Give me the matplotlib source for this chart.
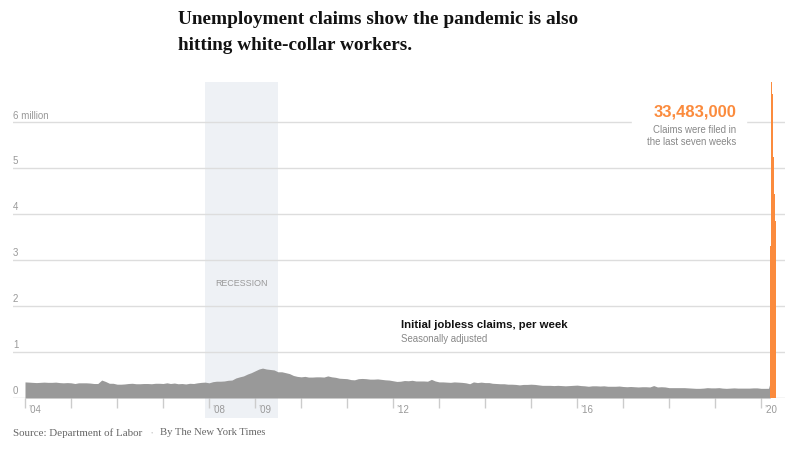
import matplotlib
matplotlib.use("Agg")
import matplotlib.pyplot as plt
import matplotlib.transforms as mtransforms
import matplotlib.patches as mpatches
import matplotlib.dates as mdates
import pandas as pd
import numpy as np

# ---------------- data (millions of initial claims) ----------------
monthly_claims = [
    # 2004
    0.350, 0.345, 0.340, 0.335, 0.340, 0.345, 0.340, 0.340, 0.345, 0.335, 0.330, 0.335,
    # 2005
    0.330, 0.315, 0.330, 0.330, 0.330, 0.325, 0.315, 0.315, 0.390, 0.360, 0.320, 0.320,
    # 2006
    0.300, 0.300, 0.305, 0.315, 0.320, 0.310, 0.310, 0.315, 0.315, 0.310, 0.320, 0.320,
    # 2007
    0.315, 0.330, 0.315, 0.325, 0.310, 0.315, 0.305, 0.320, 0.315, 0.330, 0.340, 0.345,
    # 2008
    0.330, 0.355, 0.365, 0.365, 0.370, 0.385, 0.390, 0.435, 0.460, 0.480, 0.520, 0.550,
    # 2009
    0.590, 0.630, 0.650, 0.630, 0.620, 0.610, 0.570, 0.570, 0.550, 0.530, 0.490, 0.470,
    # 2010
    0.460, 0.470, 0.455, 0.455, 0.460, 0.460, 0.455, 0.480, 0.460, 0.450, 0.430, 0.425,
    # 2011
    0.420, 0.400, 0.395, 0.420, 0.425, 0.420, 0.410, 0.410, 0.415, 0.405, 0.395, 0.390,
    # 2012
    0.375, 0.360, 0.365, 0.380, 0.375, 0.385, 0.370, 0.370, 0.370, 0.365, 0.405, 0.370,
    # 2013
    0.350, 0.350, 0.345, 0.340, 0.350, 0.345, 0.340, 0.330, 0.310, 0.350, 0.335, 0.345,
    # 2014
    0.335, 0.335, 0.320, 0.315, 0.310, 0.310, 0.300, 0.300, 0.295, 0.285, 0.295, 0.295,
    # 2015
    0.300, 0.295, 0.285, 0.275, 0.275, 0.275, 0.270, 0.275, 0.270, 0.265, 0.270, 0.275,
    # 2016
    0.280, 0.270, 0.265, 0.255, 0.265, 0.265, 0.260, 0.265, 0.255, 0.255, 0.255, 0.260,
    # 2017
    0.250, 0.245, 0.250, 0.245, 0.240, 0.245, 0.245, 0.240, 0.270, 0.240, 0.245, 0.240,
    # 2018
    0.225, 0.225, 0.225, 0.225, 0.225, 0.220, 0.215, 0.210, 0.210, 0.215, 0.225, 0.220,
    # 2019
    0.220, 0.225, 0.215, 0.210, 0.215, 0.220, 0.215, 0.215, 0.215, 0.215, 0.220, 0.220,
    # 2020 Jan-Feb
    0.210, 0.210,
]
monthly_start = "2004-01-01"

# early-March 2020 weeks (still normal)
pre_weeks_start = ["2020-03-01", "2020-03-08"]
pre_weeks_claims = [0.211, 0.282]

# pandemic weeks (week start dates), last seven weeks
pandemic_weeks_start = ["2020-03-15", "2020-03-22", "2020-03-29", "2020-04-05",
                        "2020-04-12", "2020-04-19", "2020-04-26"]
pandemic_claims = [3.307, 6.867, 6.615, 5.237, 4.442, 3.846, 3.169]
series_end = "2020-05-03"

recession = ("2007-12-01", "2009-06-30")
y_ticks = [0, 1, 2, 3, 4, 5, 6]
y_labels = ["0", "1", "2", "3", "4", "5", "6 million"]
x_label_years = [2004, 2008, 2009, 2012, 2016, 2020]

# ---------------- figure ----------------
W, H = 800, 452
fig = plt.figure(figsize=(W / 100, H / 100), dpi=100)
fig.patch.set_facecolor("white")

def fx(px):
    return px / W

def fy(py):
    return 1 - py / H

def dn(s):
    return mdates.date2num(pd.Timestamp(s))

ax_left, ax_right, ax_bottom_px, ax_top_px = 13, 785, 399, 77
ax = fig.add_axes([fx(ax_left), fy(ax_bottom_px), (ax_right - ax_left) / W,
                   (ax_bottom_px - ax_top_px) / H])
for s in ax.spines.values():
    s.set_visible(False)

sans = "Liberation Sans"
serif = "Liberation Serif"
grey_txt = "#999999"
orange = "#fb8b3d"
bar_grey = "#999999"

# grey area
m_dates = pd.date_range(monthly_start, periods=len(monthly_claims), freq="MS")
g_dates = [mdates.date2num(d) for d in m_dates] + [dn(d) for d in pre_weeks_start] \
    + [dn(pandemic_weeks_start[0])]
g_vals = list(monthly_claims) + list(pre_weeks_claims) + [pre_weeks_claims[-1]]
ax.fill_between(g_dates, 0, g_vals, color=bar_grey, lw=0, zorder=3)

# orange area
o_dates = [dn(d) for d in pandemic_weeks_start] + [dn(series_end)]
o_vals = list(pandemic_claims) + [pandemic_claims[-1]]
ax.fill_between(o_dates, 0, o_vals, step="post", color=orange, lw=0, zorder=3)

# limits: pixel mapping (x: 46 px/year, '04 at px 25)
x0 = dn("2004-01-01")
left_t = x0 - 365.25 * 12 / 46
right_t = x0 + 365.25 * (ax_right - 25) / 46
ax.set_xlim(left_t, right_t)
ax.set_ylim(0, (ax_bottom_px - ax_top_px) / 46)

# recession band
band = ax.axvspan(dn(recession[0]), dn(recession[1]),
                  ymin=-20 / 322, ymax=(399 - 83) / 322, color="#eef1f5",
                  lw=0, zorder=0)
band.set_clip_on(False)
ax.text(dn("2008-09-15"), 2.5, "RECESSION", ha="center", va="center",
        fontsize=6.4, color=grey_txt, family=sans, zorder=4)

# gridlines + y labels
ytrans = mtransforms.blended_transform_factory(ax.transAxes, ax.transData)
for v, lab in zip(y_ticks, y_labels):
    ax.axhline(v, color="#dddddd" if v else "#cccccc", lw=1, zorder=1)
    ax.annotate(lab, xy=(0, v), xycoords=ytrans, xytext=(0, 2.5),
                textcoords="offset pixels", ha="left", va="bottom",
                fontsize=7, color=grey_txt, family=sans, zorder=4)

# x ticks (every year) drawn below baseline
ax.set_xticks([dn(f"{y}-01-01") for y in range(2004, 2021)])
ax.tick_params(axis="x", length=7, color="#cccccc", width=1, labelbottom=False)
ax.set_yticks([])
xtrans = mtransforms.blended_transform_factory(ax.transData, ax.transAxes)
for y in x_label_years:
    ax.annotate("\u2019" + f"{y % 100:02d}", xy=(dn(f"{y}-01-01"), 0),
                xycoords=xtrans, xytext=(3, -6), textcoords="offset pixels",
                ha="left", va="top", fontsize=7, color=grey_txt, family=sans,
                annotation_clip=False)

# annotation: white break in the 6 million gridline
fig.patches.append(mpatches.Rectangle((fx(632), fy(128)), (746 - 632) / W, 10 / H,
                                      transform=fig.transFigure, color="white",
                                      zorder=1))
fig.text(fx(736), fy(112), "33,483,000", ha="right", va="center", fontsize=12,
         fontweight="bold", color=orange, family=sans, zorder=2)
fig.text(fx(736), fy(130), "Claims were filed in", ha="right", va="center",
         fontsize=6.9, color="#888888", family=sans, zorder=2)
fig.text(fx(736), fy(142), "the last seven weeks", ha="right", va="center",
         fontsize=6.9, color="#888888", family=sans, zorder=2)

# series label
fig.text(fx(401), fy(325), "Initial jobless claims, per week", ha="left", va="center",
         fontsize=8.2, fontweight="bold", color="#121212", family=sans)
fig.text(fx(401), fy(339), "Seasonally adjusted", ha="left", va="center",
         fontsize=6.9, color="#888888", family=sans)

# title
fig.text(fx(178), fy(20), "Unemployment claims show the pandemic is also",
         ha="left", va="center", fontsize=13.9, fontweight="bold",
         color="#121212", family=serif)
fig.text(fx(178), fy(46), "hitting white-collar workers.",
         ha="left", va="center", fontsize=13.9, fontweight="bold",
         color="#121212", family=serif)

# source
fig.text(fx(13), fy(433), "Source: Department of Labor", ha="left", va="center",
         fontsize=7.9, color="#666666", family=serif)
fig.text(fx(152), fy(433), "\u2022", ha="center", va="center",
         fontsize=5, color="#cccccc", family=serif)
fig.text(fx(160), fy(433), "By The New York Times", ha="left", va="center",
         fontsize=7.7, color="#666666", family=serif)

fig.savefig("out.png", dpi=100, facecolor="white")
